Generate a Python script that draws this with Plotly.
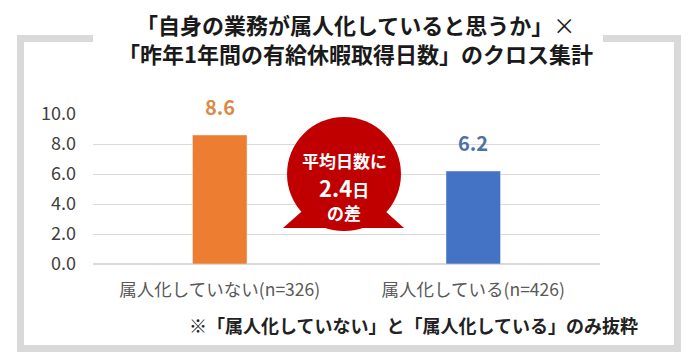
import plotly.graph_objects as go

categories = ["属人化していない(n=326)", "属人化している(n=426)"]
values = [8.6, 6.2]
bar_colors = ["#ED7D31", "#4472C4"]
label_colors = ["#D98A48", "#4D72A6"]
tick_vals = [0, 2, 4, 6, 8, 10]
title_lines = ["<b>「自身の業務が属人化していると思うか」</b>×", "<b>「昨年1年間の有給休暇取得日数」のクロス集計</b>"]
footnote = "※「属人化していない」と「属人化している」のみ抜粋"
bubble_lines = ["平均日数に", "2.4<span style='font-size:17px'>日</span>", "の差"]

W, H = 689, 364
L, R, T, B = 93, 600, 114, 264
FONT = "Noto Sans CJK JP"

def px(x):
    return (x - L) / (R - L)

def py(y):
    return (B - y) / (B - T)

fig = go.Figure()
fig.add_trace(go.Bar(
    x=categories, y=values, marker_color=bar_colors, width=0.215,
    hoverinfo="skip",
))

shapes = []
frame = "#D9D9D9"
for x0, y0, x1, y1 in [(17, 35, 24, 352), (674, 35, 681, 352), (17, 345, 681, 352),
                       (17, 35, 93, 42), (603, 35, 681, 42)]:
    shapes.append(dict(type="rect", xref="paper", yref="paper", x0=px(x0), x1=px(x1),
                       y0=py(y1), y1=py(y0), fillcolor=frame, line=dict(width=0), layer="below"))

cx, cy, r = 344, 174, 57
red = "#C00000"
shapes.append(dict(type="path", xref="paper", yref="paper",
                   path=f"M {px(283)} {py(228)} L {px(cx)} {py(cy)} L {px(404)} {py(228)} Z",
                   fillcolor=red, line=dict(width=0)))
shapes.append(dict(type="circle", xref="paper", yref="paper", x0=px(cx - r), x1=px(cx + r),
                   y0=py(cy + r), y1=py(cy - r), fillcolor=red, line=dict(width=0)))

annotations = []
for i, line in enumerate(title_lines):
    annotations.append(dict(text=line, xref="paper", yref="paper",
                            x=px(355), y=py(24 + i * 29), xanchor="center", yanchor="middle",
                            showarrow=False, font=dict(family=FONT, size=22, color="#1a1a1a")))
annotations.append(dict(text=f"<b>{footnote}</b>", xref="paper", yref="paper",
                        x=px(640), y=py(325), xanchor="right", yanchor="middle", showarrow=False,
                        font=dict(family=FONT, size=18, color="#222222")))
for line, yy, sz in zip(bubble_lines, [160, 187, 212], [17, 22, 17]):
    annotations.append(dict(text=f"<b>{line}</b>", xref="paper", yref="paper",
                            x=px(cx), y=py(yy), xanchor="center", yanchor="middle",
                            showarrow=False, font=dict(family=FONT, size=sz, color="white")))
for c, v, col in zip(categories, values, label_colors):
    annotations.append(dict(text=f"<b>{v:.1f}</b>", x=c, y=v, xref="x", yref="y",
                            xanchor="center", yanchor="bottom", yshift=12, showarrow=False,
                            font=dict(family=FONT, size=20, color=col)))

fig.update_layout(
    width=W, height=H, margin=dict(l=L, r=W - R, t=T, b=H - B),
    paper_bgcolor="white", plot_bgcolor="white", showlegend=False,
    shapes=shapes, annotations=annotations, bargap=0.785,
    xaxis=dict(showgrid=False, showline=False, ticks="", ticklabelstandoff=13,
               tickfont=dict(family=FONT, size=17.5, color="#595959")),
    yaxis=dict(range=[0, 10], tickvals=tick_vals, tickformat=".1f", showgrid=True,
               gridcolor="#D9D9D9", gridwidth=1, zeroline=True, zerolinecolor="#D9D9D9",
               showline=False, ticks="", ticklabelstandoff=16,
               tickfont=dict(family=FONT, size=18, color="#404040")),
)
fig.write_html("out.html")
